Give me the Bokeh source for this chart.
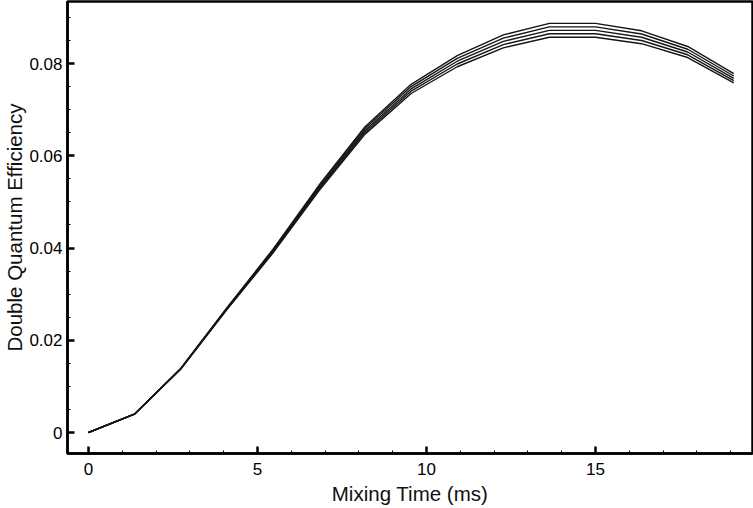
from bokeh.plotting import figure
from bokeh.embed import file_html
from bokeh.resources import INLINE
from bokeh.models import Range1d, FixedTicker

times = [0.0, 1.364, 2.727, 4.091, 5.455, 6.818, 8.182, 9.545, 10.909, 12.273, 13.636, 15.0, 16.364, 17.727, 19.091]
eff_1 = [0.0, 0.00403, 0.0139, 0.0270, 0.0397, 0.0536, 0.0663, 0.0755, 0.0817, 0.0862, 0.0887, 0.0887, 0.0871, 0.0837, 0.0778]
eff_2 = [0.0, 0.00402, 0.01385, 0.0269, 0.0395, 0.0533, 0.0659, 0.0750, 0.0811, 0.0855, 0.08795, 0.08795, 0.0864, 0.0831, 0.0773]
eff_3 = [0.0, 0.00400, 0.0138, 0.0268, 0.0393, 0.0530, 0.0655, 0.0745, 0.0805, 0.0848, 0.0872, 0.0872, 0.0857, 0.0825, 0.0768]
eff_4 = [0.0, 0.00399, 0.01375, 0.0267, 0.0391, 0.0527, 0.0651, 0.0740, 0.0799, 0.0841, 0.08645, 0.08645, 0.0850, 0.0819, 0.0763]
eff_5 = [0.0, 0.00397, 0.0137, 0.0266, 0.0389, 0.0524, 0.0647, 0.0735, 0.0793, 0.0834, 0.0857, 0.0857, 0.0843, 0.0813, 0.0758]
series = [eff_1, eff_2, eff_3, eff_4, eff_5]

x_major = [0, 5, 10, 15]
x_minor = [i for i in range(0, 20)]
y_major = [0, 0.02, 0.04, 0.06, 0.08]
y_minor = [0.005 * i for i in range(0, 19)]

p = figure(width=753, height=508, output_backend="svg", toolbar_location=None,
           x_range=Range1d(-0.621, 19.645), y_range=Range1d(-0.00455, 0.09345),
           min_border_left=67, min_border_right=1, min_border_top=1, min_border_bottom=55)

for s in series:
    p.line(times, s, line_color="#151515", line_width=1.4)

p.xgrid.visible = False
p.ygrid.visible = False
p.outline_line_color = "black"
p.outline_line_width = 2.5
p.background_fill_color = "white"
p.border_fill_color = "white"

font = "Liberation Sans"
for ax in (p.xaxis[0], p.yaxis[0]):
    ax.axis_line_width = 2.5
    ax.axis_line_color = "black"
    ax.major_tick_in = 7
    ax.major_tick_out = 0
    ax.minor_tick_in = 3
    ax.minor_tick_out = 0
    ax.major_tick_line_width = 2.5
    ax.minor_tick_line_width = 1
    ax.major_label_text_font = font
    ax.major_label_text_font_size = "17px"
    ax.major_label_text_color = "black"
    ax.axis_label_text_font = font
    ax.axis_label_text_font_style = "normal"
    ax.axis_label_text_color = "#111111"

p.xaxis[0].axis_label_text_font_size = "20.5px"
p.yaxis[0].axis_label_text_font_size = "20.5px"
p.xaxis[0].ticker = FixedTicker(ticks=x_major, minor_ticks=x_minor)
p.yaxis[0].ticker = FixedTicker(ticks=y_major, minor_ticks=y_minor)
p.xaxis[0].major_label_overrides = {0: "0", 5: "5", 10: "10", 15: "15"}
p.yaxis[0].major_label_overrides = {0: "0", 0.02: "0.02", 0.04: "0.04", 0.06: "0.06", 0.08: "0.08"}
p.xaxis[0].axis_label = "Mixing Time (ms)"
p.yaxis[0].axis_label = "Double Quantum Efficiency"
p.xaxis[0].major_label_standoff = 9
p.yaxis[0].major_label_standoff = 5
p.xaxis[0].axis_label_standoff = 4
p.yaxis[0].axis_label_standoff = 0

open("out.html", "w").write(file_html(p, INLINE))
